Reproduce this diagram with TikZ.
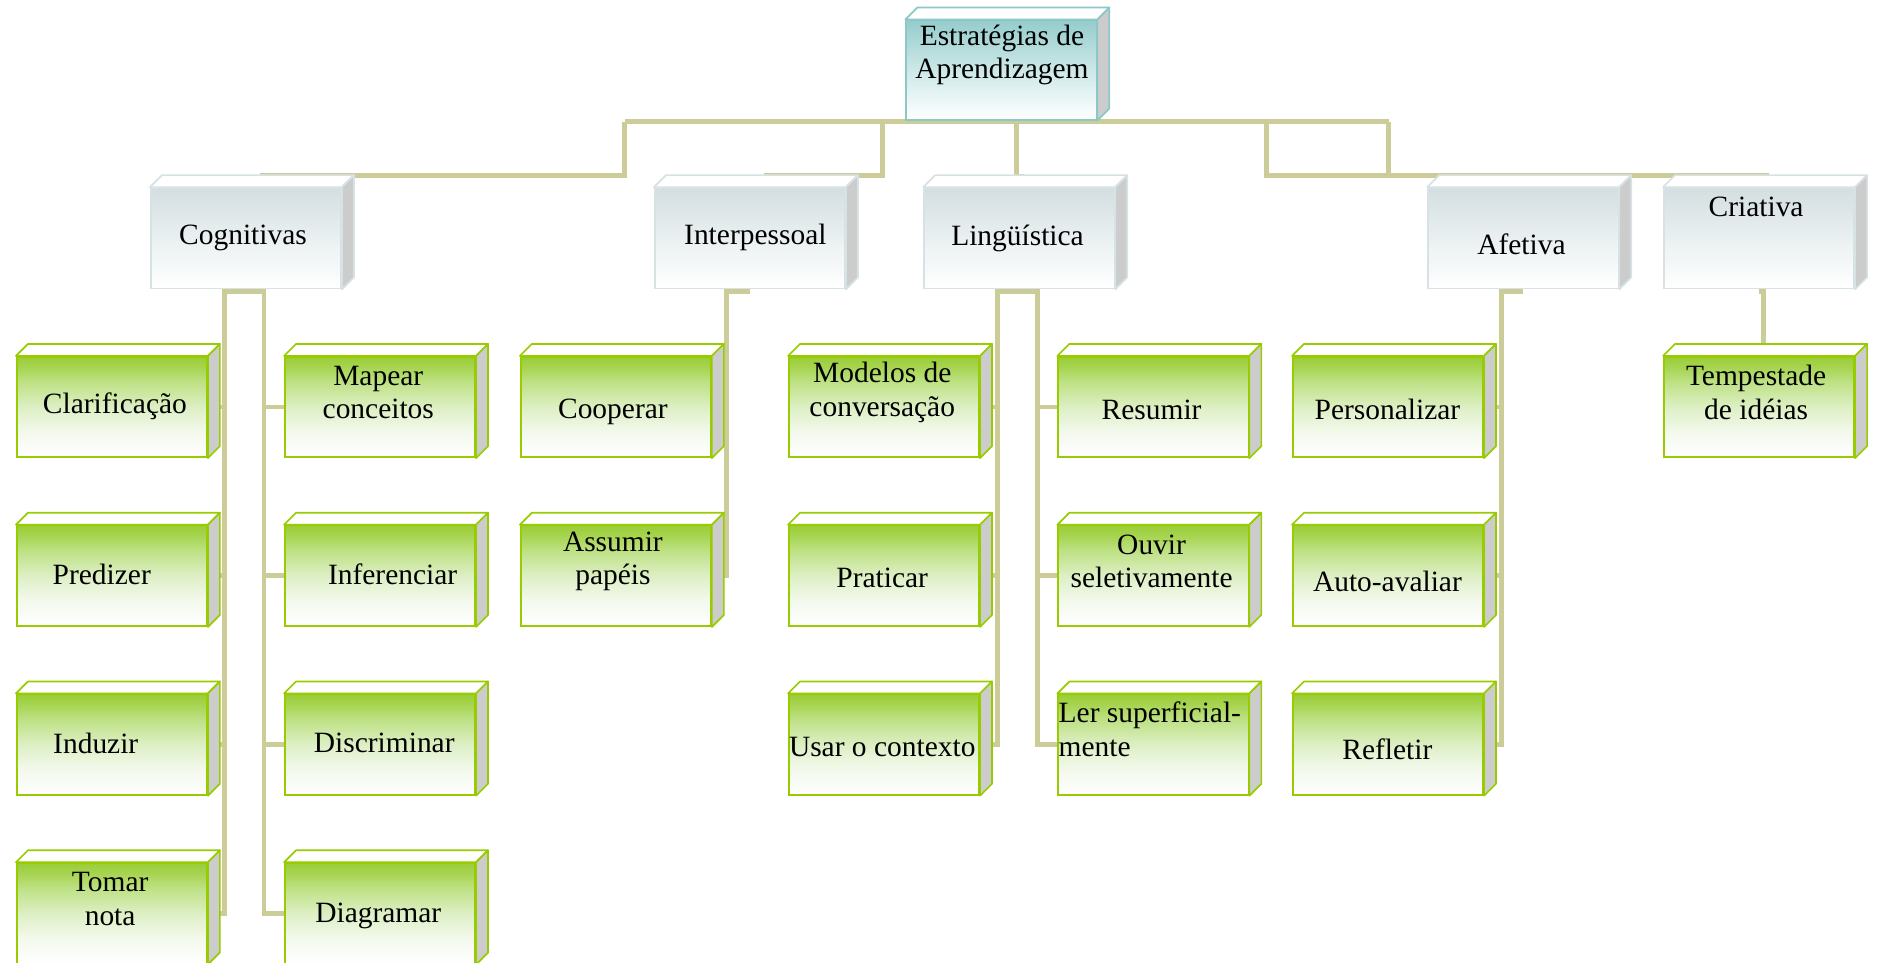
\documentclass[tikz,border=0pt]{standalone}
\usepackage{fontspec}
\setmainfont{Liberation Serif}
\usetikzlibrary{calc}

% palette
\definecolor{linkc}{RGB}{204,204,153}
\definecolor{gline}{RGB}{153,204,0}
\definecolor{gtop}{RGB}{155,205,55}
\definecolor{gA}{RGB}{243,249,237}
\definecolor{gB}{RGB}{221,239,196}
\definecolor{gC}{RGB}{190,225,132}
\definecolor{gD}{RGB}{166,212,80}
\definecolor{cline}{RGB}{214,226,228}
\definecolor{ctop}{RGB}{212,222,224}
\definecolor{cmid}{RGB}{234,240,241}
\definecolor{tline}{RGB}{140,200,200}
\definecolor{ttop}{RGB}{150,204,204}
\definecolor{tmid}{RGB}{205,232,232}
\definecolor{sidegray}{RGB}{204,204,204}

% front-face fades (bottom = 25bp, top = 75bp)
\pgfdeclareverticalshading{gfade}{100bp}{color(0bp)=(white); color(25bp)=(white); color(37.5bp)=(gA); color(50bp)=(gB); color(62.5bp)=(gC); color(70bp)=(gD); color(75bp)=(gtop); color(100bp)=(gtop)}
\pgfdeclareverticalshading{cfade}{100bp}{color(0bp)=(white); color(25bp)=(white); color(50bp)=(cmid); color(75bp)=(ctop); color(100bp)=(ctop)}
\pgfdeclareverticalshading{tfade}{100bp}{color(0bp)=(white); color(25bp)=(white); color(50bp)=(tmid); color(75bp)=(ttop); color(100bp)=(ttop)}

\pgfdeclarelayer{bg}
\pgfsetlayers{bg,main}

\begin{document}
\begin{tikzpicture}[x=0.5pt,y=0.5pt,
  box/.style={rectangle, inner sep=0pt, minimum width=79.5pt, minimum height=42pt, line width=0.7pt},
  leaf/.style={box, draw=gline, shading=gfade},
  cat/.style={box, draw=cline, shading=cfade},
  root/.style={box, draw=tline, shading=tfade, minimum height=41.5pt},
  link/.style={draw=linkc, line width=2pt},
  txt/.style={inner sep=0pt, align=center, font=\fontsize{12.3}{14}\selectfont},
  face/.style={line width=0.7pt, line join=round}]
\useasboundingbox (0,0) rectangle (1568,-804);

% root and categories
\node[root] (root) at (836.5,-58.5) {};
\node[cat] (cog) at (205.5,-199) {};
\node[cat] (interp) at (626.5,-199) {};
\node[cat] (ling) at (851.5,-199) {};
\node[cat] (afet) at (1272.5,-199) {};
\node[cat] (criat) at (1469.5,-199) {};

% strategies
\node[leaf] (clar) at (93.5,-340) {};
\node[leaf] (pred) at (93.5,-481) {};
\node[leaf] (induz) at (93.5,-622) {};
\node[leaf] (tomar) at (93.5,-763) {};
\node[leaf] (mapear) at (317.5,-340) {};
\node[leaf] (infer) at (317.5,-481) {};
\node[leaf] (discr) at (317.5,-622) {};
\node[leaf] (diagr) at (317.5,-763) {};
\node[leaf] (coop) at (514.5,-340) {};
\node[leaf] (assum) at (514.5,-481) {};
\node[leaf] (model) at (738.5,-340) {};
\node[leaf] (prat) at (738.5,-481) {};
\node[leaf] (usar) at (738.5,-622) {};
\node[leaf] (resum) at (963.5,-340) {};
\node[leaf] (ouvir) at (963.5,-481) {};
\node[leaf] (ler) at (963.5,-622) {};
\node[leaf] (perso) at (1159.5,-340) {};
\node[leaf] (auto) at (1159.5,-481) {};
\node[leaf] (refl) at (1159.5,-622) {};
\node[leaf] (temp) at (1469.5,-340) {};

% top and side faces of the boxes
\foreach \n/\c in {root/tline, cog/cline, interp/cline, ling/cline, afet/cline, criat/cline,
  clar/gline, pred/gline, induz/gline, tomar/gline, mapear/gline, infer/gline, discr/gline, diagr/gline,
  coop/gline, assum/gline, model/gline, prat/gline, usar/gline, resum/gline, ouvir/gline, ler/gline,
  perso/gline, auto/gline, refl/gline, temp/gline}{
  \filldraw[face, draw=\c, fill=white] (\n.north west) -- ++(5pt,5pt)
     -- ([shift={(5pt,5pt)}]\n.north east) -- (\n.north east) -- cycle;
  \filldraw[face, draw=\c, fill=sidegray] (\n.north east) -- ++(5pt,5pt)
     -- ([shift={(5pt,5pt)}]\n.south east) -- (\n.south east) -- cycle;
}

% connectors
\begin{pgfonlayer}{bg}
\draw[link] ($(root.south)+(-314.5,-1)$) -- ($(root.south)+(323.5,-1)$);
\draw[link] ($(root.south)+(-314.5,-1)$) |- ($(cog.north)+(11.5,10)$);
\draw[link] ($(root.south)+(-99.5,-1)$) |- ($(interp.north)+(11.5,10)$);
\draw[link] ($(root.south)+(12.5,-1)$) |- ($(ling.north)+(3.5,9)$);
\draw[link] ($(root.south)+(221.5,-1)$) |- ($(afet.north)+(-2.5,10)$);
\draw[link] ($(root.south)+(323.5,-1)$) |- ($(criat.north)+(8.5,10)$);
\foreach \c in {clar,pred,induz,tomar}
  \draw[link] ($(cog.south)+(0,-2)$) -- ($(cog.south)+(-18,-2)$) |- (\c.east);
\foreach \c in {mapear,infer,discr,diagr}
  \draw[link] ($(cog.south)+(0,-2)$) -- ($(cog.south)+(15,-2)$) |- (\c.west);
\foreach \c in {coop,assum}
  \draw[link] ($(interp.south)+(0,-2)$) -- ($(interp.south)+(-19.5,-2)$) |- (\c.east);
\foreach \c in {model,prat,usar}
  \draw[link] ($(ling.south)+(0,-2)$) -- ($(ling.south)+(-18.5,-2)$) |- (\c.east);
\foreach \c in {resum,ouvir,ler}
  \draw[link] ($(ling.south)+(0,-2)$) -- ($(ling.south)+(15,-2)$) |- (\c.west);
\foreach \c in {perso,auto,refl}
  \draw[link] ($(afet.south)+(0,-2)$) -- ($(afet.south)+(-18.5,-2)$) |- (\c.east);
\draw[link] ($(criat.south)+(0,-2)$) -- ($(criat.south)+(3.5,-2)$) |- ($(temp.north)+(8,8)$);
\end{pgfonlayer}

% labels
\node[txt] (l-root) at (837,-46) {Estratégias de\\Aprendizagem};
\node[txt] (l-cog) at (203,-199) {Cognitivas};
\node[txt] (l-interp) at (631,-198) {Interpessoal};
\node[txt] (l-ling) at (850,-199) {Lingüística};
\node[txt] (l-afet) at (1271,-204) {Afetiva};
\node[txt] (l-criat) at (1467,-173) {Criativa};

\node[txt] (l-clar) at (96,-339) {Clarificação};
\node[txt] (l-pred) at (85,-480) {Predizer};
\node[txt] (l-induz) at (80,-621) {Induzir};
\node[txt] (l-tomar) at (92,-751) {Tomar\\nota};
\node[txt] (l-mapear) at (316,-328) {Mapear\\conceitos};
\node[txt] (l-infer) at (328,-480) {Inferenciar};
\node[txt] (l-discr) at (321,-621) {Discriminar};
\node[txt] (l-diagr) at (316,-765) {Diagramar};
\node[txt] (l-coop) at (512,-344) {Cooperar};
\node[txt] (l-assum) at (512,-469) {Assumir\\papéis};
\node[txt] (l-model) at (737,-328) {Modelos de\\conversação};
\node[txt] (l-prat) at (737,-483) {Praticar};
\node[txt] (l-usar) at (737,-624) {Usar o contexto};
\node[txt] (l-resum) at (962,-342) {Resumir};
\node[txt] (l-ouvir) at (962,-469) {Ouvir\\seletivamente};
\node[txt, anchor=west, align=left] (l-ler) at (884,-609) {Ler superficial-\\mente};
\node[txt] (l-perso) at (1159,-342) {Personalizar};
\node[txt] (l-auto) at (1159,-486) {Auto-avaliar};
\node[txt] (l-refl) at (1159,-626) {Refletir};
\node[txt] (l-temp) at (1467,-328) {Tempestade\\de idéias};
\end{tikzpicture}
\end{document}
